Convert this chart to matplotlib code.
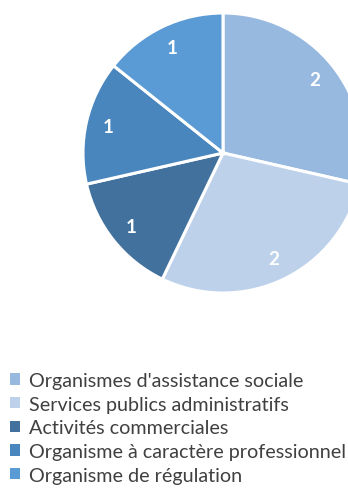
import matplotlib.pyplot as plt

# Répartition par type d'organisme
categories = ["Organismes d'assistance sociale", "Services publics administratifs",
              "Activités commerciales", "Organisme à caractère professionnel",
              "Organisme de régulation"]
valeurs = [2, 2, 1, 1, 1]
couleurs = ['#97b9e0', '#bdd1ea', '#41719c', '#4a86be', '#5b9bd5']

plt.rcParams['font.family'] = ['Lato', 'DejaVu Sans']

W, H = 348, 502
fig = plt.figure(figsize=(W / 100, H / 100), dpi=100)

# axe du camembert (centre ~ (223, 154) px, rayon ~140 px)
cx, cy, r = 223, 154, 140
ax = fig.add_axes([(cx - r) / W, 1 - (cy + r) / H, 2 * r / W, 2 * r / H])
wedges, texts = ax.pie(valeurs, colors=couleurs, startangle=90, counterclock=False,
                       labels=[str(v) for v in valeurs], labeldistance=0.84,
                       wedgeprops=dict(edgecolor='white', linewidth=2.2),
                       textprops=dict(color='white', fontsize=13.5, fontweight='bold'))
for t in texts:
    t.set_horizontalalignment('center')
    t.set_verticalalignment('center')
ax.set_xlim(-1, 1)
ax.set_ylim(-1, 1)

leg = fig.legend(wedges, categories, loc='upper left',
                 bbox_to_anchor=(10 / W, 1 - 373 / H), frameon=False,
                 fontsize=14.2, handlelength=0.5, handleheight=0.5,
                 handletextpad=0.45, labelspacing=0.34, borderaxespad=0,
                 borderpad=0)
for txt in leg.get_texts():
    txt.set_color('#404040')
for h in leg.legend_handles:
    h.set_edgecolor('none')

fig.savefig('out.png', dpi=100)
